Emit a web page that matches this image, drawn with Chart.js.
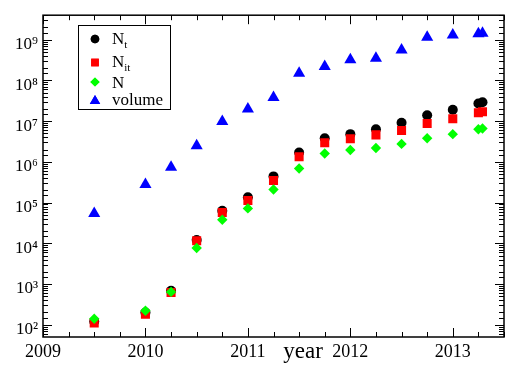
<!DOCTYPE html>
<html>
<head>
<meta charset="utf-8">
<script src="https://cdn.jsdelivr.net/npm/chart.js@4.4.0/dist/chart.umd.min.js"></script>
<style>
  body { margin: 0; background: #fff; }
  #wrap { width: 511px; height: 366px; }
</style>
</head>
<body>
<div id="wrap"><canvas id="myChart" width="511" height="366"></canvas></div>
<script>
// sample times (fraction of year)
var years = [2009.5, 2010, 2010.25, 2010.5, 2010.75, 2011, 2011.25, 2011.5, 2011.75, 2012, 2012.25, 2012.5, 2012.75, 2013, 2013.25, 2013.29];
// N_t (black circles)
var nt = [120, 200, 680, 12000, 63000, 135000, 4.4e5, 1.7e6, 3.8e6, 4.8e6, 6.3e6, 9.1e6, 1.4e7, 1.9e7, 2.7e7, 2.9e7];
// N_it (red squares)
var nit = [110, 180, 620, 11500, 57000, 112000, 3.5e5, 1.33e6, 2.95e6, 3.7e6, 4.6e6, 5.9e6, 8.8e6, 1.15e7, 1.6e7, 1.7e7];
// N (green diamonds)
var n = [140, 220, 640, 7700, 38000, 72000, 2.1e5, 6.9e5, 1.6e6, 1.95e6, 2.2e6, 2.76e6, 3.8e6, 4.8e6, 6.3e6, 6.6e6];
// volume (blue triangles)
var volume = [5.4e4, 2.8e5, 7.4e5, 2.5e6, 9.8e6, 2.0e7, 3.8e7, 1.5e8, 2.2e8, 3.2e8, 3.5e8, 5.6e8, 1.15e9, 1.3e9, 1.4e9, 1.45e9];

var yearTicks = [2009, 2010, 2011, 2012, 2013];
var supers = {'1':'\u00b9','2':'\u00b2','3':'\u00b3','4':'\u2074','5':'\u2075','6':'\u2076','7':'\u2077','8':'\u2078','9':'\u2079','0':'\u2070'};

var SERIF = '"Liberation Serif", "Times New Roman", serif';

function pts(ys) {
  return years.map(function(x, i) { return {x: x, y: ys[i]}; });
}

// r = marker radius in plot, lr = radius in legend
var series = [
  {label: 'N', sub: 't', data: nt, color: '#000000', style: 'circle', r: 5, lr: 4.3, order: 3},
  {label: 'N', sub: 'it', data: nit, color: '#ff0000', style: 'rect', r: 6.4, lr: 5.4, order: 2},
  {label: 'N', sub: '', data: n, color: '#00ff00', style: 'rectRot', r: 5.2, lr: 4.6, order: 1},
  {label: 'volume', sub: '', data: volume, color: '#0000ff', style: 'triangle', r: 7, lr: 6, order: 0}
];

function isDecade(v) {
  var l = Math.log10(v);
  return Math.abs(l - Math.round(l)) < 1e-6;
}

// frame, inward ticks, legend box and axis title, xmgrace style
var gracePlugin = {
  id: 'grace',
  afterDraw: function(chart) {
    var ctx = chart.ctx;
    var a = chart.chartArea;
    var xs = chart.scales.x, ys = chart.scales.y;
    ctx.save();
    ctx.strokeStyle = '#000';
    ctx.lineWidth = 1.5;
    ctx.strokeRect(a.left, a.top, a.right - a.left, a.bottom - a.top);

    ctx.lineWidth = 1;
    ctx.beginPath();
    for (var t = 2009; t <= 2013.5 + 1e-9; t += 0.25) {
      var px = Math.round(xs.getPixelForValue(t)) + 0.5;
      var len = Math.abs(t - Math.round(t)) < 1e-9 ? 9 : 5;
      ctx.moveTo(px, a.bottom); ctx.lineTo(px, a.bottom - len);
      ctx.moveTo(px, a.top); ctx.lineTo(px, a.top + len);
    }
    ys.ticks.forEach(function(tk) {
      var py = Math.round(ys.getPixelForValue(tk.value)) + 0.5;
      if (py < a.top || py > a.bottom) return;
      var len = isDecade(tk.value) ? 9 : 5;
      ctx.moveTo(a.left, py); ctx.lineTo(a.left + len, py);
      ctx.moveTo(a.right, py); ctx.lineTo(a.right - len, py);
    });
    ctx.stroke();

    // legend
    ctx.lineWidth = 1;
    ctx.strokeRect(78.5, 25.5, 92, 84);
    var rows = [39, 62.5, 82, 101];
    var base = [44, 66.5, 87.5, 105];
    series.forEach(function(s, i) {
      ctx.fillStyle = s.color;
      ctx.strokeStyle = s.color;
      Chart.helpers.drawPoint(ctx, {pointStyle: s.style, radius: s.lr, borderWidth: 0}, 95, rows[i]);
      ctx.fill();
      ctx.fillStyle = '#000';
      ctx.textBaseline = 'alphabetic';
      ctx.textAlign = 'left';
      ctx.font = '17px ' + SERIF;
      ctx.fillText(s.label, 112, base[i]);
      if (s.sub) {
        var w = ctx.measureText(s.label).width;
        ctx.font = '11px ' + SERIF;
        ctx.fillText(s.sub, 112 + w, base[i] + 4);
      }
    });

    // x axis title
    ctx.fillStyle = '#000';
    ctx.font = '23px ' + SERIF;
    ctx.textAlign = 'center';
    ctx.textBaseline = 'alphabetic';
    ctx.fillText('year', 303, 358);
    ctx.restore();
  }
};

var ctx = document.getElementById('myChart');
var myChart = new Chart(ctx, {
  type: 'scatter',
  data: {
    datasets: series.map(function(s) {
      return {
        label: s.label + s.sub,
        data: pts(s.data),
        pointStyle: s.style,
        pointRadius: s.r,
        pointHoverRadius: s.r,
        pointBorderWidth: 0,
        backgroundColor: s.color,
        borderColor: s.color,
        order: s.order
      };
    })
  },
  options: {
    responsive: false,
    animation: false,
    layout: { padding: { left: 0, top: 12, right: 3, bottom: 0 } },
    plugins: {
      legend: { display: false },
      tooltip: { enabled: false }
    },
    scales: {
      x: {
        type: 'linear',
        min: 2009,
        max: 2013.5,
        afterFit: function(scale) { scale.height = 29; },
        grid: { display: false, drawTicks: false },
        border: { display: false },
        afterBuildTicks: function(scale) {
          scale.ticks = yearTicks.map(function(v) { return {value: v}; });
        },
        ticks: {
          padding: 4,
          color: '#000',
          font: { family: SERIF, size: 18 },
          maxRotation: 0,
          autoSkip: false,
          callback: function(v) { return String(v); }
        }
      },
      y: {
        type: 'logarithmic',
        min: 50,
        max: 4e9,
        afterFit: function(scale) { scale.width = 43; },
        grid: { display: false, drawTicks: false },
        border: { display: false },
        ticks: {
          padding: 5,
          color: '#000',
          labelOffset: 5,
          autoSkip: false,
          font: { family: SERIF, size: 17 },
          callback: function(v) {
            if (!isDecade(v)) return '';
            var e = String(Math.round(Math.log10(v)));
            return '10' + e.split('').map(function(c) { return supers[c]; }).join('');
          }
        }
      }
    }
  },
  plugins: [gracePlugin]
});
</script>
</body>
</html>
